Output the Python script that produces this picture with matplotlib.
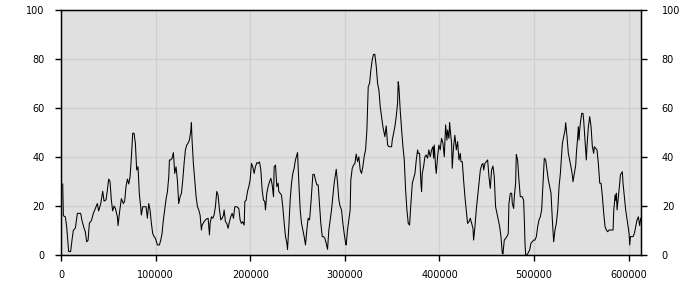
import matplotlib
matplotlib.use("Agg")
import matplotlib.pyplot as plt
import numpy as np

# position (thousands) and value
pos_k = [
    0, 1.8, 2.5, 4.6, 6.0, 7.4, 8.1, 10.2, 11.6, 13.0, 15.2, 15.9, 17.3, 20.8, 22.2,
    24.3, 25.7, 27.1, 28.6, 30.0, 32.1, 34.2, 36.3, 38.4, 39.8, 42.0, 44.1, 45.5,
    47.6, 49.0, 50.4, 51.8, 53.2, 54.6, 56.1, 57.5, 59.6, 60.3, 61.7, 63.8, 65.9,
    67.3, 68.7, 70.2, 71.6, 73.0,
    74.4, 75.8, 77.2, 78.6, 80.0, 81.4, 82.8, 84.2, 84.9, 86.4, 88.5, 89.9, 91.3,
    92.7, 94.1, 95.5, 96.9, 98.4, 99.8, 101.9, 104.0, 105.4, 106.8, 108.2, 109.6,
    111.1, 112.5, 113.9, 114.6, 116.0, 117.4, 118.8, 120.2, 121.6, 123.0, 124.4,
    125.9, 127.3, 128.7, 130.1, 131.5, 132.9, 134.3, 135.7, 137.1, 137.8, 138.5,
    139.9, 141.3, 142.8, 144.2, 145.6, 147.0, 148.4,
    149.1, 151.2, 153.4, 155.5, 156.9, 157.6, 159.0, 160.4, 161.8, 163.2, 164.6,
    166.0, 167.5, 168.9, 170.3, 171.7, 172.4, 173.8, 175.2, 176.6, 178.0, 179.4,
    180.9, 182.3, 183.7, 185.8, 187.9, 189.3, 190.7, 192.1, 193.6, 194.3, 195.7,
    197.1, 198.5, 199.9, 201.3, 202.7, 204.1, 205.5, 207.0, 208.4, 209.8, 211.2,
    212.6, 214.0, 215.4, 216.1, 217.5, 218.9, 220.4, 221.8, 223.2, 224.6,
    225.3, 226.7, 228.1, 229.5, 230.2, 231.6, 233.0, 234.4, 235.9, 237.3, 238.7,
    239.4, 240.8, 242.2, 243.6, 245.0, 246.4, 247.8, 249.3, 250.0, 251.4, 252.8,
    254.2, 255.6, 257.0, 258.4, 259.8, 261.2, 262.7, 264.1, 265.5, 266.2, 267.6,
    269.0, 270.4, 271.8, 273.2, 274.6, 276.1, 277.5, 278.9, 280.3, 281.7, 283.1,
    284.5, 285.9, 287.3, 288.7, 290.2, 290.9, 292.3, 293.7, 295.1, 296.5, 297.9,
    299.3, 300.8,
    301.4, 302.8, 304.2, 305.6, 306.3, 307.8, 309.2, 310.6, 312.0, 313.4, 314.8,
    316.2, 317.6, 319.0, 320.4, 321.9, 323.3, 324.7, 326.1, 327.5, 328.9, 330.3,
    331.7, 333.2, 334.6, 336.0, 337.4, 338.8, 340.2, 341.6, 342.3, 343.7, 345.2,
    346.6, 348.0, 349.4, 350.1, 351.5, 352.9, 354.3, 355.7, 356.4, 357.1, 358.5,
    360.0, 361.4, 362.8, 364.2, 365.6, 367.0, 368.4, 369.8, 371.3, 372.7, 374.1,
    375.5, 376.9,
    377.6, 379.0, 380.4, 381.1, 381.8, 383.2, 384.6, 386.0, 387.4, 388.8, 390.2,
    391.7, 393.1, 393.8, 394.5, 395.9, 396.6, 398.0, 399.4, 400.8, 402.2, 403.7,
    405.1, 406.5, 407.9, 408.6, 410.0, 410.7, 411.4, 412.8, 413.5, 414.9, 416.3,
    417.8, 419.2, 420.6, 422.0, 422.7, 424.1, 425.5, 426.9, 428.3, 429.7, 431.2,
    432.6, 434.0, 435.4, 436.1, 437.5, 438.9, 440.3, 441.7, 443.2, 444.6, 446.0,
    446.7, 448.1, 449.5, 450.9, 452.3,
    453.7, 455.1, 456.5, 457.9, 459.3, 460.8, 462.2, 463.6, 465.0, 466.4, 467.1,
    468.5, 469.9, 471.3, 472.7, 473.4, 474.9, 476.3, 477.0, 478.4, 479.1, 480.5,
    481.2, 482.6, 484.0, 485.4, 487.5, 488.9, 489.6, 490.4, 491.1, 492.5, 493.9,
    495.3, 496.7, 498.1, 499.5, 500.9, 502.4, 503.8, 505.2, 506.6, 508.0, 509.4,
    510.8, 512.2, 513.7, 515.1, 516.5, 517.9, 519.3, 520.7, 522.1, 523.5, 525.0,
    526.4, 527.8, 529.2,
    529.9, 531.3, 532.7, 533.4, 534.8, 536.2, 537.6, 539.0, 540.4, 541.1, 542.6,
    544.0, 544.7, 546.1, 546.8, 547.5, 548.2, 548.9, 550.3, 551.7, 552.4, 553.8,
    555.2, 555.9, 557.4, 558.8, 560.2, 561.6, 563.0, 563.7, 565.1, 566.5, 567.9,
    569.4, 570.8, 572.2, 573.6, 575.0, 576.4, 577.8, 579.2, 581.3, 583.5, 584.2,
    584.9, 585.6, 586.3, 587.0, 587.7, 589.1, 590.5, 591.2, 592.6, 593.3, 594.0,
    595.4, 596.8, 598.3, 599.7, 600.4, 601.1, 601.8, 603.2, 604.6, 606.0, 607.4,
    608.8, 610.2, 611.6, 612.7,
]
values = [
    29, 29, 16, 15.6, 11.5, 4.8, 1.4, 1.4, 6, 10, 11, 13, 17, 17, 14,
    11, 9.5, 5.4, 6, 13, 14, 17, 19, 21, 18, 21, 26, 22,
    22.5, 26.5, 31, 30, 22.5, 18, 20, 19, 15.6, 12, 17, 23, 21,
    22, 28, 31, 29, 32,
    40, 49.7, 49.7, 45.6, 34.7, 36, 25, 19.7, 16.3, 19.7, 19.7, 19.7, 15,
    21, 18.4, 13, 8.8, 7.5, 6.8, 4.1, 4.1, 6, 8.8, 14.3, 18.4,
    23, 25.9, 32, 38.8, 38.8, 39.5, 41.8, 33.3, 36, 30.6, 21,
    23.8, 25.2, 30.6, 37.4, 42.9, 44.9, 45.6, 47, 50.3, 54, 47,
    37.4, 30.6, 23.8, 19.7, 18.4, 16.3, 10.2,
    12.2, 13.6, 14.6, 15, 8.2, 12.9, 15.6, 15, 16.3, 19.7, 25.9,
    24.5, 18.4, 14.3, 15, 16.3, 18.4, 13.6, 12.9, 10.9, 13.6, 15.6,
    17, 15, 19.7, 19.7, 19, 14.3, 12.9, 13.6, 12.2, 21.8, 22.4,
    25.9, 27.9, 30.6, 37.4, 36, 33.3, 36, 37.7, 37.4, 38, 34.7,
    26.5, 22.4, 21.8, 18.4, 25.2, 27.9, 29.9, 31.3, 28.6, 23.8,
    36, 36.7, 27.9, 29.3, 25.9, 25.2, 24.5, 19.7, 12.9, 7.5, 4.8,
    2.3, 11.6, 22.4, 29.3, 33.3, 35.4, 38.8, 40.8, 41.8, 29.3, 18.4,
    12.9, 10.2, 7.5, 4.1, 10.2, 15, 14.3, 21, 29.3, 32.9, 32.9,
    30.6, 28.6, 28.6, 21, 12.9, 7.5, 7.5, 6.8, 4.8, 2.3, 10.2,
    14.3, 18.4, 23.8, 29.3, 33.3, 35, 29.3, 22.4, 19.7, 18.4, 12.9,
    8.8, 4.8,
    4.1, 10.2, 14.3, 18.4, 30.6, 35.4, 36.7, 37.4, 41.2, 38.1, 40.1,
    34.7, 33.3, 36, 40.1, 42.9, 51, 68.7, 70, 75.5, 79.6, 81.9,
    81.9, 76.9, 70, 67.3, 60.5, 56.5, 52.4, 49.7, 48.3, 52.7, 44.9,
    44.2, 44.2, 44.2, 46.9, 49.7, 52.4, 56.5, 61.9, 70.7, 68.7, 59.2,
    51, 44.2, 38.8, 26.5, 18.4, 12.9, 12.2, 21, 29.3, 31.3, 33.3,
    38.8, 42.9,
    41.5, 41.5, 29.3, 25.9, 33.3, 36, 40.1, 40.8, 39.5, 42.9, 40.1,
    42.9, 44.2, 39.5, 44.9, 36, 33.3, 40.1, 44.9, 42.9, 47.6, 45.6,
    40.1, 53.1, 46.9, 51, 47.6, 54, 51, 45.6, 35.4, 44.2, 48.9,
    42.9, 46.3, 38.8, 41.5, 38.1, 38.1, 30.6, 23.8, 18.4, 12.9, 13.6,
    15, 12.9, 10.9, 6.1, 11.6, 18.4, 23.8, 29.3, 34.7, 36.7, 37.4,
    34.7, 37.4, 38.1, 38.8, 32,
    27.2, 34.7, 36.3, 32, 19.7, 17, 14.3, 11.6, 7.5, 0.7, 0.4,
    6.1, 6.8, 7.5, 8.8, 21, 25.2, 25.2, 21, 19, 23.8, 29.3,
    41.1, 38.8, 30.6, 23.8, 23.8, 22.4, 15.6, 4.8, 0, 0, 1,
    2, 4.8, 5.4, 6.1, 6.1, 7.5, 11.6, 14.3, 15.6, 18.4, 29.3,
    39.5, 38.8, 34.7, 30.6, 27.9, 25.2, 14.3, 5.4, 10.2, 12.9, 18.4,
    27.9, 33.3, 41.5,
    45.6, 48.3, 51, 54, 48.3, 41.5, 38.8, 36, 32.7, 29.9, 33.3,
    36.7, 41.5, 48.3, 52.4, 46.9, 51, 53.7, 57.8, 57.8, 55.1, 46.9,
    38.8, 44.2, 52.4, 56.5, 52.4, 44.2, 41.5, 44.2, 43.5, 42.9, 37.4,
    29.3, 29.3, 23.8, 17, 11.6, 10.2, 9.5, 10.2, 10.2, 10.2, 18.4,
    21, 24.5, 22.3, 25.2, 18.4, 23.8, 29.3, 32.7, 33.6, 34, 29.3,
    23.8, 18.4, 14.3, 10.2, 8.8, 4.1, 7.5, 7.5, 7.5, 8.8, 11.6,
    14.3, 15.6, 12, 15,
]
x_ticks = [0, 100000, 200000, 300000, 400000, 500000, 600000]
y_ticks = [0, 20, 40, 60, 80, 100]

x = np.array(pos_k) * 1000
y = np.array(values)

fig = plt.figure(figsize=(7, 3), dpi=100)
ax = fig.add_axes([61 / 700, 45 / 300, 580 / 700, 245 / 300])
ax.set_facecolor("#e0e0e0")
ax.plot(x, y, color="black", linewidth=0.75)

ax.set(xlim=(0, 613000), ylim=(0, 100), xticks=x_ticks, yticks=y_ticks)
ax.set_xticklabels([str(t) for t in x_ticks])
ax.grid(True, color="#cfcfcf", linewidth=0.9)
ax.set_axisbelow(True)
for s in ax.spines.values():
    s.set_color("black")
    s.set_linewidth(1)

ax.tick_params(axis="both", direction="out", length=4, width=1,
               labelsize=7, colors="black")
ax.tick_params(axis="y", pad=8)
ax.tick_params(axis="x", pad=7)

# right axis: same scale, labels sit further out
ax2 = ax.twinx()
ax2.set(ylim=(0, 100), yticks=y_ticks)
ax2.tick_params(axis="y", direction="out", length=4, width=1,
                labelsize=7, colors="black", pad=11)

fig.savefig("out.png", dpi=100)
